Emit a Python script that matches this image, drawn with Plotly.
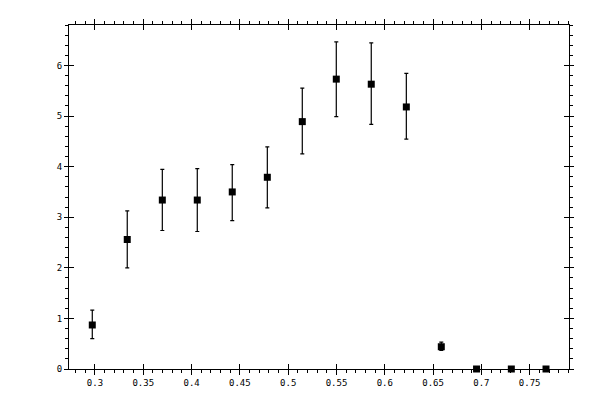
import plotly.graph_objects as go

# data
x = [0.2972, 0.3334, 0.3697, 0.4059, 0.4421, 0.4784, 0.5146,
     0.5498, 0.5860, 0.6223, 0.6585, 0.6950, 0.7310, 0.7669]
y = [0.87, 2.56, 3.34, 3.34, 3.50, 3.79, 4.89,
     5.73, 5.63, 5.18, 0.44, 0.0, 0.0, 0.0]
y_hi = [1.165, 3.126, 3.948, 3.961, 4.039, 4.39, 5.553,
        6.466, 6.447, 5.845, 0.53, 0.0, 0.0, 0.0]
y_lo = [0.602, 2.0, 2.738, 2.718, 2.932, 3.184, 4.252,
        4.99, 4.835, 4.544, 0.37, 0.0, 0.0, 0.0]

x_ticks = [0.3, 0.35, 0.4, 0.45, 0.5, 0.55, 0.6, 0.65, 0.7, 0.75]
x_labels = ["0.3", "0.35", "0.4", "0.45", "0.5", "0.55", "0.6", "0.65", "0.7", "0.75"]
y_ticks = [0, 1, 2, 3, 4, 5, 6]

err_plus = [h - v for h, v in zip(y_hi, y)]
err_minus = [v - l for v, l in zip(y, y_lo)]

fig = go.Figure()
fig.add_trace(
    go.Scatter(
        x=x,
        y=y,
        mode="markers",
        marker=dict(symbol="square", size=7, color="black"),
        error_y=dict(
            type="data",
            symmetric=False,
            array=err_plus,
            arrayminus=err_minus,
            color="black",
            thickness=1.2,
            width=2,
        ),
        cliponaxis=False,
        showlegend=False,
    )
)
# invisible trace so the overlay axes (inner major ticks) get drawn
fig.add_trace(
    go.Scatter(x=[x[0]], y=[y[0]], xaxis="x2", yaxis="y2",
               mode="markers", marker=dict(opacity=0), showlegend=False,
               hoverinfo="skip")
)

font = dict(family="DejaVu Sans Mono", size=9, color="black")
xr = [0.2731, 0.7907]
yr = [0, 6.8]

# page body has an 8px margin, so the margins are shifted to compensate
fig.update_layout(
    width=600,
    height=400,
    margin=dict(l=61, r=39, t=11, b=39),
    paper_bgcolor="white",
    plot_bgcolor="white",
    font=font,
    xaxis=dict(
        range=xr,
        tickvals=x_ticks,
        ticktext=x_labels,
        ticks="outside",
        ticklen=5,
        tickwidth=1,
        tickcolor="black",
        showline=True,
        linecolor="black",
        linewidth=1,
        mirror="allticks",
        showgrid=False,
        zeroline=False,
        minor=dict(dtick=0.01, tick0=0.3, ticks="outside", ticklen=3,
                   tickcolor="black", showgrid=False),
    ),
    yaxis=dict(
        range=yr,
        tickvals=y_ticks,
        ticks="outside",
        ticklen=4,
        tickwidth=1,
        tickcolor="black",
        showline=True,
        linecolor="black",
        linewidth=1,
        mirror="allticks",
        showgrid=False,
        zeroline=False,
        minor=dict(dtick=0.2, tick0=0, ticks="outside", ticklen=3,
                   tickcolor="black", showgrid=False),
    ),
    xaxis2=dict(
        overlaying="x",
        matches="x",
        range=xr,
        tickvals=x_ticks,
        ticks="inside",
        ticklen=5,
        tickcolor="black",
        showticklabels=False,
        showline=False,
        mirror="ticks",
        showgrid=False,
        zeroline=False,
    ),
    yaxis2=dict(
        overlaying="y",
        matches="y",
        range=yr,
        tickvals=y_ticks,
        ticks="inside",
        ticklen=5,
        tickcolor="black",
        showticklabels=False,
        showline=False,
        mirror="ticks",
        showgrid=False,
        zeroline=False,
    ),
)

fig.write_html("out.html")
